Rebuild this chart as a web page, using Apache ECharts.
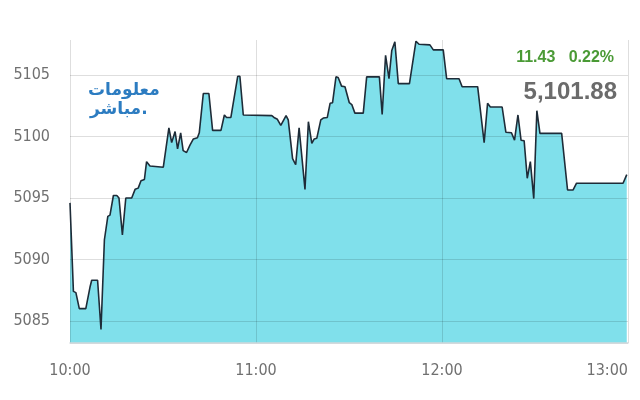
<!DOCTYPE html>
<html>
<head>
<meta charset="utf-8">
<script src="https://cdn.jsdelivr.net/npm/echarts@6/dist/echarts.min.js"></script>
<style>html,body{margin:0;padding:0;background:#fff;}#c{width:640px;height:400px;}</style>
</head>
<body>
<div id="c"></div>
<script>
// minutes since 10:00
const times = [0, 1.1, 1.9, 3.0, 5.1, 6.5, 7.0, 8.9, 10.0, 11.1, 12.2, 12.9, 14.0, 15.1, 15.8, 16.9, 18.0, 19.9, 21.0, 22.0,
  22.9, 24.0, 24.7, 25.8, 30.1, 31.9, 32.8, 33.9, 34.7, 35.7, 36.5, 37.6, 38.7, 39.8, 41.1, 41.7, 43.0, 44.8, 46.0, 48.7,
  49.8, 50.5, 51.9, 54.1, 54.8, 55.9, 65.1, 65.8, 66.9, 68.0, 69.7, 70.4, 71.8, 72.8, 73.9, 75.8, 76.9, 78.0, 78.8, 79.6,
  80.9, 81.7, 83.0, 83.9, 84.7, 85.8, 86.5, 87.6, 88.7, 90.1, 90.9, 91.9, 94.6, 95.7, 99.8, 100.7, 101.8, 102.9, 103.8, 104.8,
  105.9, 109.5, 111.6, 112.6, 116.1, 117.2, 120.4, 121.5, 125.5, 126.5, 131.5, 133.6, 134.7, 135.6, 139.4, 140.6, 142.4, 143.4, 144.5, 145.5,
  146.5, 147.5, 148.5, 149.6, 150.6, 151.6, 158.6, 160.5, 162.3, 163.4, 178.4, 179.6];
const prices = [5094.6, 5087.4, 5087.3, 5086.0, 5086.0, 5087.8, 5088.3, 5088.3, 5084.3, 5091.6, 5093.5, 5093.6, 5095.2, 5095.2, 5095.0, 5092.0, 5095.0, 5095.0, 5095.7, 5095.8,
  5096.4, 5096.5, 5097.95, 5097.6, 5097.5, 5100.7, 5099.5, 5100.4, 5099.0, 5100.3, 5098.85, 5098.7, 5099.3, 5099.8, 5099.9, 5100.3, 5103.5, 5103.5, 5100.5, 5100.5,
  5101.75, 5101.55, 5101.55, 5104.9, 5104.9, 5101.75, 5101.7, 5101.55, 5101.4, 5100.9, 5101.7, 5101.35, 5098.2, 5097.7, 5100.7, 5095.7, 5101.2, 5099.45, 5099.8, 5099.85,
  5101.35, 5101.5, 5101.55, 5102.7, 5102.75, 5104.85, 5104.8, 5104.1, 5104.05, 5102.75, 5102.6, 5101.9, 5101.9, 5104.85, 5104.85, 5101.8, 5106.6, 5104.7, 5107.0, 5107.7,
  5104.3, 5104.3, 5107.75, 5107.5, 5107.45, 5107.05, 5107.05, 5104.7, 5104.7, 5104.05, 5104.05, 5099.5, 5102.7, 5102.4, 5102.4, 5100.35, 5100.3, 5099.7, 5101.75, 5099.7,
  5099.65, 5096.6, 5097.95, 5094.95, 5102.1, 5100.25, 5100.25, 5095.65, 5095.65, 5096.2, 5096.2, 5096.9];
const xTickLabels = ['10:00', '11:00', '12:00', '13:00'];
const changeText = '11.43   0.22%';
const lastText = '5,101.88';
const logoLine1 = 'معلومات';
const logoLine2 = 'مباشر.';

const data = times.map((t, i) => [t, prices[i]]);
const labelFont = "'DejaVu Sans Condensed', 'Liberation Sans Narrow', 'Liberation Sans', sans-serif";
const gridColor = 'rgba(0,0,0,0.13)';

const chart = echarts.init(document.getElementById('c'), null, {renderer: 'canvas'});
chart.setOption({
  animation: false,
  backgroundColor: '#ffffff',
  grid: {left: 70, right: 12, top: 40, bottom: 57},
  xAxis: {
    type: 'value', min: 0, max: 180, interval: 60, z: 3,
    axisLine: {show: true, onZero: false, lineStyle: {color: '#cfd8dc', width: 1.5}},
    axisTick: {show: false},
    splitLine: {show: true, lineStyle: {color: gridColor, width: 1}},
    axisLabel: {
      margin: 20, color: '#707070', fontSize: 16, fontFamily: labelFont,
      alignMaxLabel: 'right',
      formatter: v => xTickLabels[Math.round(v / 60)]
    }
  },
  yAxis: {
    type: 'value', min: 5083.2, max: 5107.85, splitNumber: 5, z: 3,
    axisLine: {show: false}, axisTick: {show: false},
    splitLine: {show: true, showMaxLine: false, lineStyle: {color: gridColor, width: 1}},
    axisLabel: {
      margin: 20, color: '#707070', fontSize: 16, fontFamily: labelFont,
      showMinLabel: false, showMaxLabel: false,
      formatter: v => String(v)
    }
  },
  series: [
    {
      type: 'line', data: data, symbol: 'none', z: 1,
      lineStyle: {width: 0, opacity: 0},
      areaStyle: {color: 'rgb(128,224,235)', opacity: 1, origin: 'start'}
    },
    {
      type: 'line', data: data, symbol: 'none', z: 5,
      lineStyle: {width: 1.6, color: '#1e2c38'}
    }
  ],
  graphic: [
    {type: 'text', right: 26, top: 50, z: 10, style: {text: changeText, fill: '#4a9a35', font: "bold 16px 'Liberation Sans', Arial, sans-serif"}},
    {type: 'text', right: 23, top: 80, z: 10, style: {text: lastText, fill: '#6b6b6b', font: "bold 24px 'Liberation Sans', Arial, sans-serif"}},
    {type: 'text', left: 88, top: 82, z: 10, style: {text: logoLine1, fill: '#2c7cc1', font: "bold 17px 'DejaVu Sans', sans-serif"}},
    {type: 'text', left: 90, top: 101, z: 10, style: {text: logoLine2, fill: '#2c7cc1', font: "bold 17px 'DejaVu Sans', sans-serif"}}
  ]
});
</script>
</body>
</html>
